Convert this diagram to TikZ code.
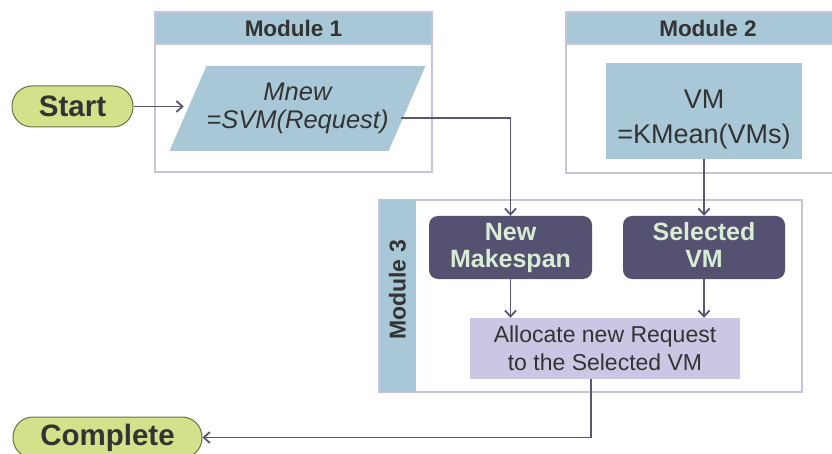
\documentclass[tikz,border=0pt]{standalone}
\usepackage{fontspec}
\setmainfont{Liberation Sans}
\usetikzlibrary{arrows.meta,shapes.geometric,calc}
\definecolor{hdrblue}{HTML}{A8C8D7}
\definecolor{modborder}{HTML}{C6C3DB}
\definecolor{darkbox}{HTML}{555170}
\definecolor{paletxt}{HTML}{D8EDD3}
\definecolor{allocfill}{HTML}{CBC6E3}
\definecolor{termfill}{HTML}{D5E08B}
\definecolor{termline}{HTML}{6E6E48}
\definecolor{arrcol}{HTML}{5A5670}
\definecolor{txtdark}{HTML}{333333}
\tikzset{
  modbox/.style={draw=modborder, line width=1.2pt, fill=white, minimum width=#1, inner sep=0pt},
  hdr/.style={fill=hdrblue, draw=modborder, line width=1.2pt, text=txtdark, font=\bfseries\fontsize{22.5}{25}\selectfont, inner sep=0pt, minimum height=32pt},
  terminal/.style={fill=termfill, draw=termline, line width=1pt, rounded corners=20pt, text=txtdark, font=\bfseries\fontsize{29.5}{32}\selectfont, minimum height=41pt, inner sep=0pt},
  darkstep/.style={fill=darkbox, rounded corners=9pt, text=paletxt, font=\bfseries\fontsize{25}{27}\selectfont, align=center, minimum width=163pt, minimum height=63pt, inner sep=0pt},
  arr/.style={draw=arrcol, line width=1.8pt, -{Straight Barb[length=6pt,width=11pt]}}
}
\begin{document}
\begin{tikzpicture}[x=1pt,y=-1pt]
\useasboundingbox (0,0) rectangle (832,454);
\clip (0,0) rectangle (832,454);
% Module 1
\node[modbox=277pt, minimum height=160pt] (m1) at (293.5,92) {};
\node[hdr, minimum width=277pt] (m1h) at (293.5,28) {Module 1};
\node[trapezium, trapezium left angle=54, trapezium right angle=126, trapezium stretches=true,
      fill=hdrblue, minimum width=253pt, minimum height=85pt, inner sep=0pt,
      text=txtdark, font=\itshape\fontsize{25.5}{28}\selectfont, align=center] (mnew) at (297.5,108.5) {Mnew\\=SVM(Request)};
% Module 2
\node[modbox=284pt, minimum height=161pt] (m2) at (708,92.5) {};
\node[hdr, minimum width=284pt] (m2h) at (708,28) {Module 2};
\node[fill=hdrblue, minimum width=196pt, minimum height=96pt, inner sep=0pt, text=txtdark,
      font=\fontsize{27}{35}\selectfont, align=center] (vm) at (704,111) {\rule{0pt}{36pt}VM\\=KMean(VMs)};
% Module 3
\node[modbox=423pt, minimum height=192pt] (m3) at (590.5,296) {};
\node[fill=hdrblue, minimum width=36pt, minimum height=192pt, inner sep=0pt] (m3h) at (397.5,296) {};
\node[rotate=90, text=txtdark, font=\bfseries\fontsize{23}{25}\selectfont] (m3t) at (397.5,290) {Module 3};
\node[darkstep] (nm) at (510.5,247.5) {New\\Makespan};
\node[darkstep, minimum width=162pt] (svm) at (704,247.5) {Selected\\VM\vphantom{p}};
\node[fill=allocfill, minimum width=270pt, minimum height=61pt, inner sep=0pt, text=txtdark,
      font=\fontsize{23}{28}\selectfont, align=center] (alloc) at (605,348.5) {Allocate new Request\\to the Selected VM};
% terminals
\node[terminal, minimum width=121pt] (start) at (72.5,106.5) {Start};
\node[terminal, minimum width=189pt] (complete) at (107.5,437.5) {Complete};
% connectors
\draw[arr] (start.east) -- ([xshift=-4pt]start.east -| mnew.west);
\coordinate (mout) at ([shift={(-6pt,-9.5pt)}]mnew.east);
\draw[arr] (mout) -| (nm.north);
\draw[arr] (vm.south) -- (svm.north);
\draw[arr] (nm.south) -- (nm.south |- alloc.north);
\draw[arr] (svm.south) -- (svm.south |- alloc.north);
\coordinate (aout) at ([xshift=-14pt]alloc.south);
\draw[arr] (aout) |- (complete.east);
\end{tikzpicture}
\end{document}
